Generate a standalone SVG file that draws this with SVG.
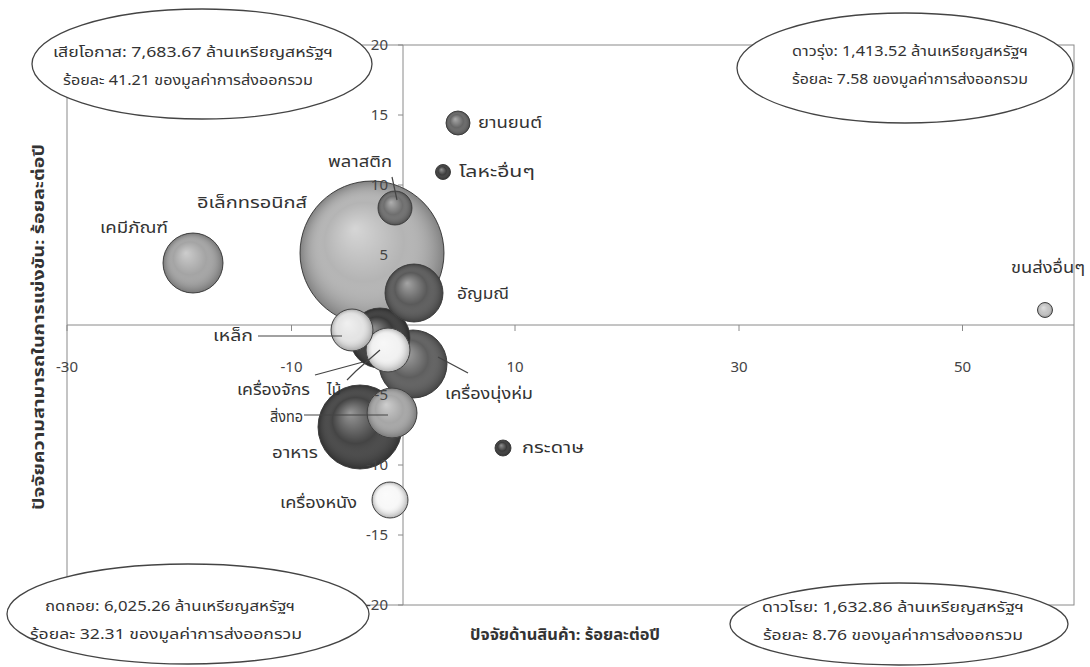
<svg xmlns="http://www.w3.org/2000/svg" width="1090" height="667" viewBox="0 0 1090 667">
<defs>
<radialGradient id="shine" cx="0.5" cy="0.5" r="0.5" fx="0.38" fy="0.33">
<stop offset="0" stop-color="#fff" stop-opacity="0.45"/>
<stop offset="0.55" stop-color="#fff" stop-opacity="0"/>
<stop offset="1" stop-color="#000" stop-opacity="0.28"/>
</radialGradient>
</defs>
<style>
text{font-family:"Noto Sans Thai","Liberation Sans","DejaVu Sans",sans-serif;fill:#333}
.tick{font-size:15px;fill:#444}
.lbl{font-size:15px}
.info{font-size:14.5px;text-anchor:middle}
.title{font-size:15px;font-weight:bold;text-anchor:middle}
.frame{fill:none;stroke:#8a8a8a;stroke-width:1}
.ax{stroke:#8a8a8a;stroke-width:1;fill:none}
.b{stroke:#4a4a4a;stroke-width:1}
.sh{fill:url(#shine)}
.lead{stroke:#444;stroke-width:1.2;fill:none}
.ell{fill:#fff;stroke:#444;stroke-width:1.3}
</style>
<rect width="1090" height="667" fill="#fff"/>
<g id="axes">
<rect class="frame" x="67" y="45" width="1007" height="560"/>
<line class="ax" x1="67" y1="325" x2="1074" y2="325"/>
<line class="ax" x1="403" y1="45" x2="403" y2="605"/>
<path class="ax" d="M398 45H403M398 115H403M398 185H403M398 255H403M398 325H403M398 395H403M398 465H403M398 535H403M398 605H403M67 325V331M291.5 325V331M515 325V331M739 325V331M962.5 325V331"/>
</g>
<g id="node-electronics"><circle class="b" cx="372" cy="253" r="72" fill="#b4b4b4"/><circle class="sh" cx="372" cy="253" r="72"/><text class="lbl" x="197" y="208" textLength="110" lengthAdjust="spacingAndGlyphs">อิเล็กทรอนิกส์</text></g>
<g id="node-food"><circle class="b" cx="360" cy="427" r="42" fill="#444"/><circle class="sh" cx="360" cy="427" r="42"/><text class="lbl" x="272" y="458" textLength="46" lengthAdjust="spacingAndGlyphs">อาหาร</text></g>
<g id="node-apparel"><circle class="b" cx="413" cy="364" r="34" fill="#5e5e5e"/><circle class="sh" cx="413" cy="364" r="34"/><text class="lbl" x="445" y="399" textLength="88" lengthAdjust="spacingAndGlyphs">เครื่องนุ่งห่ม</text></g>
<g id="node-chemicals"><circle class="b" cx="193" cy="263" r="30" fill="#a4a4a4"/><circle class="sh" cx="193" cy="263" r="30"/><text class="lbl" x="100" y="233" textLength="68" lengthAdjust="spacingAndGlyphs">เคมีภัณฑ์</text></g>
<g id="node-machinery"><circle class="b" cx="380" cy="338" r="30" fill="#3a3a3a"/><circle class="sh" cx="380" cy="338" r="30"/><text class="lbl" x="237" y="395" textLength="73" lengthAdjust="spacingAndGlyphs">เครื่องจักร</text></g>
<g id="node-gems"><circle class="b" cx="414" cy="293" r="29" fill="#5a5a5a"/><circle class="sh" cx="414" cy="293" r="29"/><text class="lbl" x="457" y="299" textLength="52" lengthAdjust="spacingAndGlyphs">อัญมณี</text></g>
<g id="node-textiles"><circle class="b" cx="392" cy="413" r="25" fill="#a6a6a6"/><circle class="sh" cx="392" cy="413" r="25"/><text class="lbl" x="270" y="422" textLength="33" lengthAdjust="spacingAndGlyphs">สิ่งทอ</text></g>
<g id="node-wood"><circle class="b" cx="388" cy="350" r="22" fill="#f2f2f2"/><circle class="sh" cx="388" cy="350" r="22"/><text class="lbl" x="327" y="395" textLength="14" lengthAdjust="spacingAndGlyphs">ไม้</text></g>
<g id="node-steel"><circle class="b" cx="352" cy="330" r="21" fill="#e4e4e4"/><circle class="sh" cx="352" cy="330" r="21"/><text class="lbl" x="213" y="341" textLength="40" lengthAdjust="spacingAndGlyphs">เหล็ก</text></g>
<g id="node-leather"><circle class="b" cx="390" cy="500" r="18" fill="#f8f8f8"/><circle class="sh" cx="390" cy="500" r="18"/><text class="lbl" x="280" y="508" textLength="77" lengthAdjust="spacingAndGlyphs">เครื่องหนัง</text></g>
<g id="node-plastics"><circle class="b" cx="395" cy="208" r="17" fill="#6e6e6e"/><circle class="sh" cx="395" cy="208" r="17"/><text class="lbl" x="328" y="167" textLength="64" lengthAdjust="spacingAndGlyphs">พลาสติก</text></g>
<g id="node-automotive"><circle class="b" cx="458" cy="123" r="12" fill="#666"/><circle class="sh" cx="458" cy="123" r="12"/><text class="lbl" x="478" y="128" textLength="64" lengthAdjust="spacingAndGlyphs">ยานยนต์</text></g>
<g id="node-paper"><circle class="b" cx="503" cy="448" r="8" fill="#3a3a3a"/><circle class="sh" cx="503" cy="448" r="8"/><text class="lbl" x="522" y="453" textLength="62" lengthAdjust="spacingAndGlyphs">กระดาษ</text></g>
<g id="node-othermetals"><circle class="b" cx="443" cy="172" r="7.5" fill="#3c3c3c"/><circle class="sh" cx="443" cy="172" r="7.5"/><text class="lbl" x="459" y="177" textLength="76" lengthAdjust="spacingAndGlyphs">โลหะอื่นๆ</text></g>
<g id="node-othertransport"><circle class="b" cx="1045" cy="310" r="7.5" fill="#c4c4c4"/><circle class="sh" cx="1045" cy="310" r="7.5"/><text class="lbl" x="1011" y="273" textLength="74" lengthAdjust="spacingAndGlyphs">ขนส่งอื่นๆ</text></g>
<g id="connectors">
<path class="lead" d="M392 177L397 200"/>
<path class="lead" d="M258 336H342"/>
<path class="lead" d="M315 375L363 362"/>
<path class="lead" d="M347 380L356 371L380 350"/>
<path class="lead" d="M438 357L468 373"/>
<path class="lead" d="M304 415H388"/>
</g>
<g id="ticklabels">
<text class="tick" x="388" y="50" text-anchor="end">20</text>
<text class="tick" x="388" y="120" text-anchor="end">15</text>
<text class="tick" x="388" y="190" text-anchor="end">10</text>
<text class="tick" x="388" y="260" text-anchor="end">5</text>
<text class="tick" x="388" y="400" text-anchor="end">-5</text>
<text class="tick" x="388" y="470" text-anchor="end">-10</text>
<text class="tick" x="388" y="540" text-anchor="end">-15</text>
<text class="tick" x="388" y="610" text-anchor="end">-20</text>
<text class="tick" x="67" y="372" text-anchor="middle">-30</text>
<text class="tick" x="291.5" y="372" text-anchor="middle">-10</text>
<text class="tick" x="515" y="372" text-anchor="middle">10</text>
<text class="tick" x="739" y="372" text-anchor="middle">30</text>
<text class="tick" x="962.5" y="372" text-anchor="middle">50</text>
</g>
<g id="titles">
<text class="title" x="565" y="640" textLength="190" lengthAdjust="spacingAndGlyphs">ปัจจัยด้านสินค้า: ร้อยละต่อปี</text>
<text class="title" transform="translate(44 327) rotate(-90)" textLength="366" lengthAdjust="spacingAndGlyphs">ปัจจัยความสามารถในการแข่งขัน: ร้อยละต่อปี</text>
</g>
<g id="box-lost-opportunity"><ellipse class="ell" cx="202" cy="64" rx="170" ry="55"/><text class="info" x="193" y="57" textLength="280" lengthAdjust="spacingAndGlyphs">เสียโอกาส: 7,683.67 ล้านเหรียญสหรัฐฯ</text><text class="info" x="188" y="85" textLength="250" lengthAdjust="spacingAndGlyphs">ร้อยละ 41.21 ของมูลค่าการส่งออกรวม</text></g>
<g id="box-rising-star"><ellipse class="ell" cx="905" cy="68" rx="168" ry="55"/><text class="info" x="910" y="56" textLength="236" lengthAdjust="spacingAndGlyphs">ดาวรุ่ง: 1,413.52 ล้านเหรียญสหรัฐฯ</text><text class="info" x="910" y="84" textLength="236" lengthAdjust="spacingAndGlyphs">ร้อยละ 7.58 ของมูลค่าการส่งออกรวม</text></g>
<g id="box-retreat"><ellipse class="ell" cx="188" cy="614" rx="181" ry="50"/><text class="info" x="170" y="611" textLength="250" lengthAdjust="spacingAndGlyphs">ถดถอย: 6,025.26 ล้านเหรียญสหรัฐฯ</text><text class="info" x="166" y="639" textLength="272" lengthAdjust="spacingAndGlyphs">ร้อยละ 32.31 ของมูลค่าการส่งออกรวม</text></g>
<g id="box-falling-star"><ellipse class="ell" cx="899" cy="624" rx="169" ry="41"/><text class="info" x="893" y="612" textLength="262" lengthAdjust="spacingAndGlyphs">ดาวโรย: 1,632.86 ล้านเหรียญสหรัฐฯ</text><text class="info" x="893" y="640" textLength="260" lengthAdjust="spacingAndGlyphs">ร้อยละ 8.76 ของมูลค่าการส่งออกรวม</text></g>
</svg>
